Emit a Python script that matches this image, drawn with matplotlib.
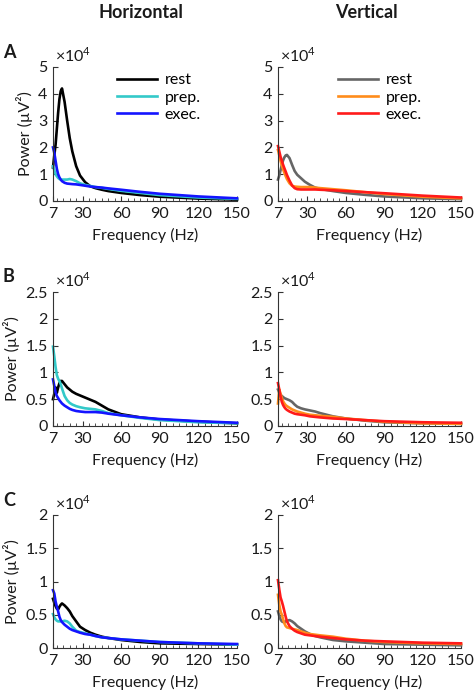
import numpy as np
import matplotlib
matplotlib.use("Agg")
import matplotlib.pyplot as plt
from matplotlib.ticker import FixedLocator, MultipleLocator, FuncFormatter

plt.rcParams["font.family"] = ["Lato", "DejaVu Sans"]
plt.rcParams["mathtext.fontset"] = "custom"
plt.rcParams["mathtext.rm"] = "Lato"

# frequency grid (Hz) shared by every trace
freq = [7, 8, 9, 10, 11, 12, 13, 14, 16, 18, 20, 22, 25, 28, 32, 36, 40, 45, 50, 60, 75, 90, 120, 150]

# power in units of 1e4 uV^2
a_hor_rest = [1.25, 1.7, 2.1, 2.7, 3.3, 3.8, 4.1, 4.2, 3.7, 3.0, 2.35, 1.85, 1.3, 0.95, 0.7, 0.55, 0.48, 0.42, 0.37, 0.3, 0.22, 0.16, 0.09, 0.05]
a_hor_prep = [1.3, 1.15, 1.0, 0.92, 0.86, 0.82, 0.8, 0.8, 0.8, 0.8, 0.82, 0.8, 0.74, 0.66, 0.6, 0.56, 0.52, 0.49, 0.45, 0.38, 0.3, 0.22, 0.13, 0.08]
a_hor_exec = [2.0, 1.8, 1.5, 1.2, 1.0, 0.88, 0.8, 0.74, 0.68, 0.65, 0.64, 0.63, 0.62, 0.6, 0.57, 0.54, 0.52, 0.5, 0.47, 0.42, 0.34, 0.27, 0.17, 0.1]
a_ver_rest = [0.8, 0.95, 1.15, 1.35, 1.52, 1.63, 1.7, 1.72, 1.6, 1.35, 1.12, 0.98, 0.85, 0.72, 0.6, 0.5, 0.45, 0.41, 0.37, 0.3, 0.23, 0.17, 0.1, 0.07]
a_ver_prep = [1.9, 1.7, 1.5, 1.33, 1.18, 1.05, 0.93, 0.82, 0.66, 0.57, 0.54, 0.53, 0.52, 0.52, 0.52, 0.5, 0.48, 0.46, 0.44, 0.4, 0.33, 0.26, 0.16, 0.1]
a_ver_exec = [2.05, 1.85, 1.65, 1.5, 1.35, 1.22, 1.1, 0.97, 0.76, 0.58, 0.48, 0.44, 0.43, 0.43, 0.43, 0.43, 0.42, 0.41, 0.4, 0.37, 0.33, 0.29, 0.2, 0.13]

b_hor_rest = [0.5, 0.6, 0.72, 0.62, 0.72, 0.8, 0.84, 0.84, 0.78, 0.72, 0.68, 0.64, 0.6, 0.57, 0.53, 0.49, 0.45, 0.38, 0.31, 0.22, 0.16, 0.12, 0.08, 0.05]
b_hor_prep = [1.48, 1.3, 1.1, 0.95, 0.88, 0.84, 0.78, 0.7, 0.56, 0.48, 0.43, 0.4, 0.37, 0.35, 0.33, 0.32, 0.31, 0.28, 0.24, 0.2, 0.15, 0.11, 0.07, 0.05]
b_hor_exec = [0.87, 0.75, 0.63, 0.56, 0.52, 0.48, 0.45, 0.42, 0.38, 0.35, 0.32, 0.3, 0.28, 0.27, 0.26, 0.26, 0.26, 0.25, 0.23, 0.2, 0.16, 0.13, 0.09, 0.06]
b_ver_rest = [0.68, 0.62, 0.58, 0.56, 0.54, 0.52, 0.51, 0.5, 0.48, 0.45, 0.4, 0.36, 0.33, 0.31, 0.29, 0.27, 0.24, 0.21, 0.18, 0.14, 0.1, 0.07, 0.05, 0.04]
b_ver_prep = [0.42, 0.68, 0.6, 0.52, 0.46, 0.42, 0.39, 0.37, 0.34, 0.31, 0.29, 0.27, 0.25, 0.23, 0.21, 0.2, 0.19, 0.18, 0.17, 0.14, 0.11, 0.08, 0.05, 0.04]
b_ver_exec = [0.8, 0.68, 0.55, 0.45, 0.39, 0.35, 0.32, 0.3, 0.27, 0.25, 0.23, 0.22, 0.21, 0.2, 0.18, 0.17, 0.16, 0.15, 0.14, 0.13, 0.11, 0.09, 0.07, 0.06]

c_hor_rest = [0.74, 0.68, 0.63, 0.59, 0.58, 0.62, 0.65, 0.67, 0.64, 0.6, 0.55, 0.48, 0.4, 0.32, 0.27, 0.23, 0.2, 0.17, 0.15, 0.12, 0.09, 0.07, 0.06, 0.05]
c_hor_prep = [0.51, 0.46, 0.43, 0.41, 0.4, 0.4, 0.4, 0.4, 0.41, 0.4, 0.37, 0.32, 0.26, 0.24, 0.22, 0.2, 0.18, 0.16, 0.15, 0.13, 0.11, 0.09, 0.07, 0.05]
c_hor_exec = [0.87, 0.82, 0.7, 0.62, 0.55, 0.47, 0.42, 0.39, 0.35, 0.32, 0.29, 0.27, 0.25, 0.23, 0.21, 0.2, 0.18, 0.16, 0.15, 0.13, 0.11, 0.09, 0.07, 0.06]
c_ver_rest = [0.55, 0.48, 0.43, 0.4, 0.39, 0.39, 0.4, 0.41, 0.42, 0.4, 0.37, 0.33, 0.29, 0.25, 0.21, 0.18, 0.16, 0.14, 0.12, 0.1, 0.08, 0.06, 0.05, 0.04]
c_ver_prep = [0.8, 0.65, 0.55, 0.5, 0.43, 0.37, 0.33, 0.31, 0.3, 0.29, 0.28, 0.27, 0.25, 0.23, 0.21, 0.2, 0.19, 0.18, 0.17, 0.14, 0.11, 0.09, 0.07, 0.06]
c_ver_exec = [1.02, 0.88, 0.76, 0.7, 0.63, 0.55, 0.47, 0.4, 0.33, 0.29, 0.26, 0.24, 0.22, 0.2, 0.19, 0.18, 0.17, 0.16, 0.15, 0.13, 0.11, 0.1, 0.08, 0.07]

labels = ["rest", "prep.", "exec."]
colors_hor = ["#000000", "#33c9c9", "#1414ff"]
colors_ver = ["#666666", "#ff8c1a", "#ff1a1a"]

rows = [
    ("A", 5, 1, [a_hor_rest, a_hor_prep, a_hor_exec], [a_ver_rest, a_ver_prep, a_ver_exec]),
    ("B", 2.5, 0.5, [b_hor_rest, b_hor_prep, b_hor_exec], [b_ver_rest, b_ver_prep, b_ver_exec]),
    ("C", 2, 0.5, [c_hor_rest, c_hor_prep, c_hor_exec], [c_ver_rest, c_ver_prep, c_ver_exec]),
]

W, H = 475, 696
fig = plt.figure(figsize=(W / 100, H / 100), dpi=100)

# axes boxes in pixels: (left, right), (top, bottom)
cols_px = [(53, 237), (278, 461)]
rows_px = [(67, 201), (292, 426), (515, 648)]

txt = "#1a1a1a"
fs = 11.5

for r, (letter, ymax, ystep, hor, ver) in enumerate(rows):
    top, bot = rows_px[r]
    for c, (series, cols) in enumerate([(hor, colors_hor), (ver, colors_ver)]):
        l, rr = cols_px[c]
        ax = fig.add_axes([l / W, 1 - bot / H, (rr - l) / W, (bot - top) / H])
        for vals, col, lab in zip(series, cols, labels):
            ax.plot(freq, vals, color=col, lw=1.9, label=lab, clip_on=False,
                    solid_joinstyle="round")
        ax.set_xlim(7, 150)
        ax.set_ylim(0, ymax)
        ax.xaxis.set_major_locator(FixedLocator([7, 30, 60, 90, 120, 150]))
        ax.xaxis.set_minor_locator(FixedLocator(np.arange(10, 150, 5)))
        ax.yaxis.set_major_locator(MultipleLocator(ystep))
        ax.yaxis.set_major_formatter(FuncFormatter(lambda v, p: f"{v:g}"))
        for s in ["top", "right"]:
            ax.spines[s].set_visible(False)
        for s in ["left", "bottom"]:
            ax.spines[s].set_color("#333333")
            ax.spines[s].set_linewidth(0.8)
        ax.tick_params(which="major", direction="in", length=3.5, width=0.8,
                       color="#333333", labelsize=fs, labelcolor=txt, pad=4)
        ax.tick_params(which="minor", direction="in", length=2, width=0.6,
                       color="#333333")
        ax.tick_params(axis="y", which="minor", left=False)
        ax.set_xlabel("Frequency (Hz)", fontsize=fs, color=txt, labelpad=5)
        if c == 0:
            ax.set_ylabel("Power (µV²)", fontsize=fs, color=txt, labelpad=4)
        ax.text(0.01, 1.02, r"$\times10^4$", transform=ax.transAxes,
                fontsize=fs, color=txt, ha="left", va="bottom")
        ax.patch.set_alpha(0)
        if r == 0:
            ax.legend(loc="upper left", bbox_to_anchor=(0.35 if c == 0 else 0.33, 0.955),
                      frameon=False, fontsize=fs, handlelength=2.5,
                      handletextpad=0.45, labelspacing=0.2, borderpad=0,
                      borderaxespad=0)
    fig.text(3 / W, 1 - (top - 15) / H, letter, fontsize=13, fontweight="bold",
             color=txt, ha="left", va="center")

fig.text(141 / W, 1 - 12 / H, "Horizontal", fontsize=13, fontweight="bold",
         color=txt, ha="center", va="center")
fig.text(366 / W, 1 - 12 / H, "Vertical", fontsize=13, fontweight="bold",
         color=txt, ha="center", va="center")

fig.savefig("out.png", dpi=100)
